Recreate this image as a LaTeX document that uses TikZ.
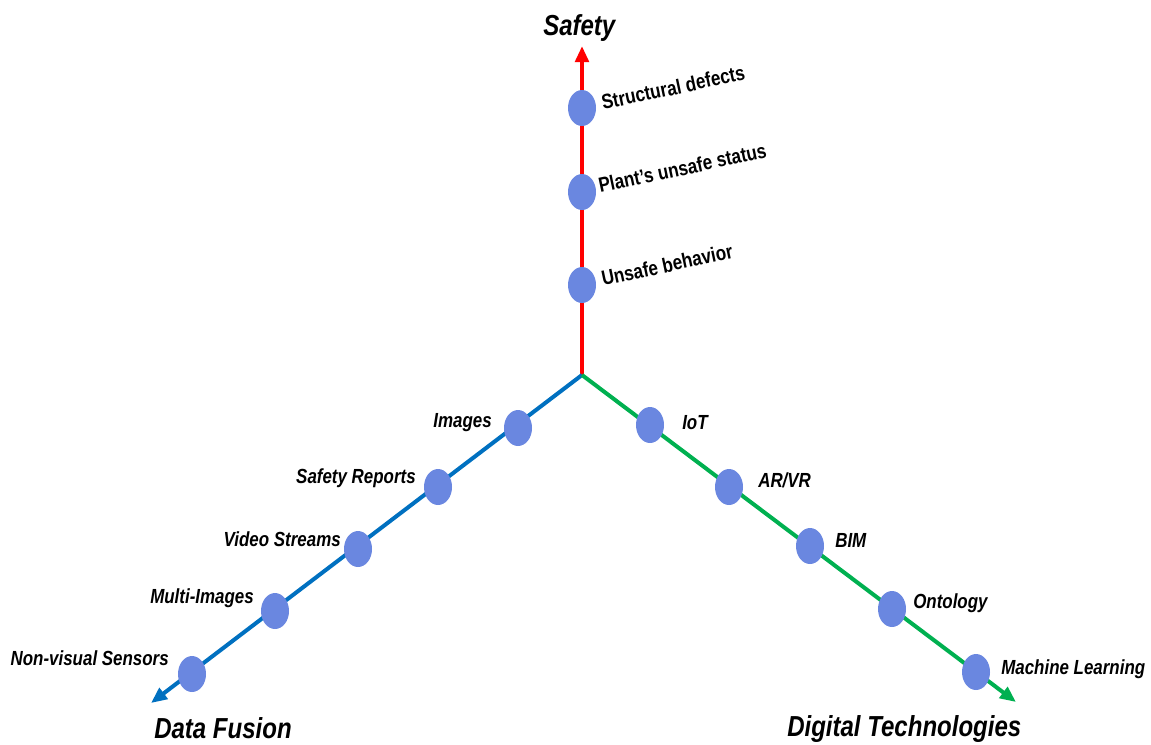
\documentclass[tikz,border=0pt]{standalone}
\usepackage{fontspec}
\setmainfont{Liberation Sans}[FakeStretch=0.83]
\usetikzlibrary{arrows.meta, shapes.geometric}

\definecolor{safetyred}{RGB}{255,0,0}
\definecolor{fusionblue}{RGB}{0,112,192}
\definecolor{techgreen}{RGB}{0,176,80}
\definecolor{dotblue}{RGB}{106,135,224}

\begin{document}
\begin{tikzpicture}[x=0.75pt, y=-0.75pt]
 \tikzstyle{axis}=[line width=3pt, -{Triangle[length=12pt, width=10pt]}]
 \tikzstyle{dot}=[ellipse, fill=dotblue, minimum width=21pt, minimum height=27pt, inner sep=0pt]
 \tikzstyle{hazard}=[font=\fontsize{15.5}{18}\selectfont\bfseries, anchor=base west, rotate=12, inner sep=0pt]
 \tikzstyle{item}=[font=\fontsize{15.3}{18}\selectfont\bfseries\itshape, inner sep=0pt]
 \tikzstyle{title}=[font=\fontsize{21.7}{26}\selectfont\bfseries\itshape, anchor=base west, inner sep=0pt]

 \useasboundingbox (0,0) rectangle (1151,744);

 \coordinate (origin) at (582,375);
 \coordinate (safetytip) at (582,46);
 \coordinate (fusiontip) at (151,703);
 \coordinate (techtip) at (1016,702);

 % Axes
 \draw [axis, safetyred] (origin) -- (safetytip);
 \draw [axis, fusionblue] (origin) -- (fusiontip);
 \draw [axis, techgreen] (origin) -- (techtip);

 % Axis titles
 \node (tsafety) at (543,35) [title] {Safety};
 \node (tfusion) at (154,738) [title] {Data Fusion};
 \node (ttech) at (787,736) [title] {Digital Technologies};

 % Safety axis
 \node (nstruct) at (582,108) [dot] {};
 \node [hazard] at (603,110) {Structural defects};
 \node (nplant) at (582,192) [dot] {};
 \node [hazard] at (600,193) {Plant’s unsafe status};
 \node (nbehav) at (582,285) [dot] {};
 \node [hazard] at (603,286) {Unsafe behavior};

 % Data fusion axis
 \node (nimages) at (518,428) [dot] {};
 \node [item, anchor=base east] at (492,427) {Images};
 \node (nreports) at (438,487) [dot] {};
 \node [item, anchor=base east] at (416,483) {Safety Reports};
 \node (nvideo) at (358,549) [dot] {};
 \node [item, anchor=base east] at (341,546) {Video Streams};
 \node (nmulti) at (275,611) [dot] {};
 \node [item, anchor=base east] at (254,603) {Multi-Images};
 \node (nsensors) at (192,674) [dot] {};
 \node [item, anchor=base east] at (169,665) {Non-visual Sensors};

 % Digital technologies axis
 \node (niot) at (650,425) [dot] {};
 \node [item, anchor=base west] at (682,429) {IoT};
 \node (narvr) at (729,487) [dot] {};
 \node [item, anchor=base west] at (758,487) {AR/VR};
 \node (nbim) at (810,546) [dot] {};
 \node [item, anchor=base west] at (835,547) {BIM};
 \node (nonto) at (892,609) [dot] {};
 \node [item, anchor=base west] at (913,608) {Ontology};
 \node (nml) at (976,672) [dot] {};
 \node [item, anchor=base west] at (1001,674) {Machine Learning};

\end{tikzpicture}
\end{document}
